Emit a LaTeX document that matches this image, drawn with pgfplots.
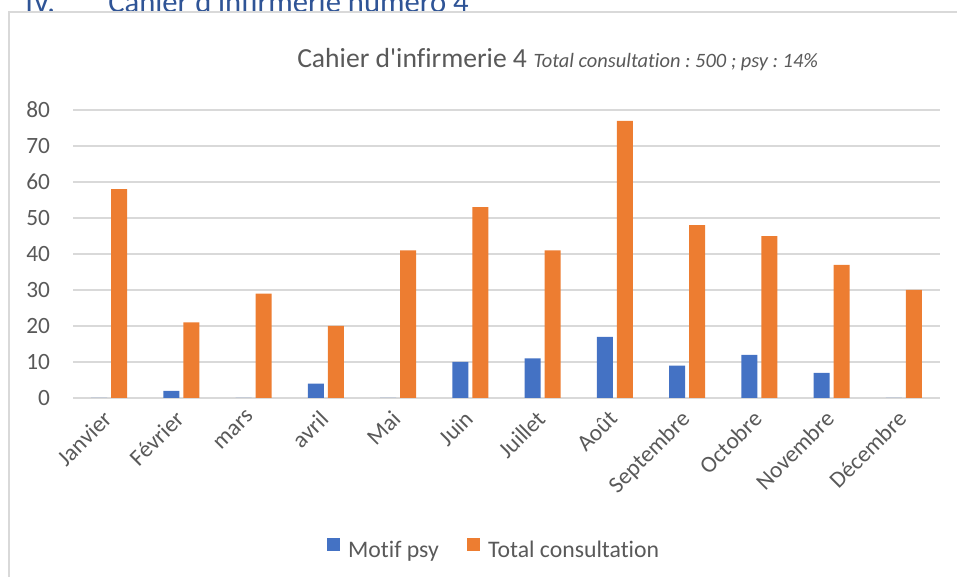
\documentclass[border=0pt]{standalone}
\usepackage{pgfplots}
\pgfplotsset{compat=1.18}
\usepackage{fontspec}
\setmainfont{Carlito}[Ligatures={TeXOff,CommonOff}]
\frenchspacing
\definecolor{cblue}{HTML}{4472C4}
\definecolor{corange}{HTML}{ED7D31}
\definecolor{ctext}{HTML}{595959}
\definecolor{cgrid}{HTML}{D9D9D9}
\definecolor{chead}{HTML}{2F5496}
\begin{document}
\begin{tikzpicture}
\useasboundingbox (0,0) rectangle (717.75pt,432.75pt);
% heading (cropped at top)
\node[anchor=base west, inner sep=0pt, text=chead, font=\fontsize{23}{26}\selectfont] at (18.75pt,423pt) {IV.};
\node[anchor=base west, inner sep=0pt, text=chead, font=\fontsize{23}{26}\selectfont] at (81pt,423pt) {Cahier d'infirmerie numéro 4};
% chart frame
\draw[cgrid, line width=1.1pt] (6.75pt,-10pt) -- (6.75pt,423.75pt) -- (740pt,423.75pt);
% title
\node[anchor=base west, inner sep=0pt, text=ctext] at (222.75pt,381.75pt) {{\fontsize{20.7}{24}\selectfont Cahier d'infirmerie 4}\hspace{5pt}{\fontsize{15.3}{18}\selectfont\itshape Total consultation : 500 ; psy : 14\%}};
\begin{axis}[
  at={(54.75pt,134.25pt)}, anchor=south west,
  scale only axis, width=650.25pt, height=216pt,
  ybar=3pt, bar width=12pt,
  xmin=-0.5, xmax=11.5, ymin=0, ymax=80,
  xtick=data,
  xticklabels={Janvier,Février,mars,avril,Mai,Juin,Juillet,Août,Septembre,Octobre,Novembre,Décembre},
  ytick={0,10,...,80},
  axis line style={draw=none},
  major tick length=0pt,
  ymajorgrids, grid style={cgrid, line width=1.1pt},
  tick label style={text=ctext, font=\fontsize{17.5}{20}\selectfont},
  /pgf/number format/assume math mode=true,
  yticklabel style={anchor=east, inner sep=0pt, xshift=-17pt},
  xticklabel style={xshift=-5.6pt, yshift=-8.2pt, rotate=45, anchor=north east, inner sep=0pt},
  legend style={at={(axis description cs:0.4844,-0.524)}, anchor=center, draw=none, fill=none,
    legend columns=2, font=\fontsize{17.8}{20}\selectfont, text=ctext,
    nodes={inner sep=0pt},
    /tikz/every odd column/.append style={column sep=6pt},
    /tikz/every even column/.append style={column sep=21pt}},
  legend image code/.code={\fill[#1] (0pt,-0.5pt) rectangle (10pt,9.5pt);},
]
\addplot[fill=cblue, draw=none] coordinates {(0,0) (1,2) (2,0) (3,4) (4,0) (5,10) (6,11) (7,17) (8,9) (9,12) (10,7) (11,0)};
\addplot[fill=corange, draw=none] coordinates {(0,58) (1,21) (2,29) (3,20) (4,41) (5,53) (6,41) (7,77) (8,48) (9,45) (10,37) (11,30)};
\legend{Motif psy, Total consultation}
\end{axis}
\end{tikzpicture}
\end{document}
